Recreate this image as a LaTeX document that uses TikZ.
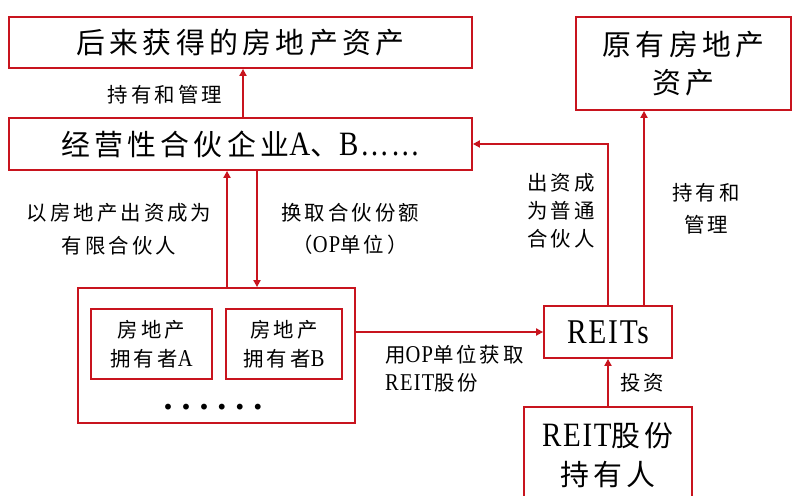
\documentclass[tikz,border=0pt]{standalone}
\usepackage{fontspec}
\setmainfont{Noto Sans CJK SC}[LetterSpace=15]
\newfontfamily\lat{Liberation Serif}[Scale=1.18,FakeStretch=0.85,LetterSpace=5]
\newfontfamily\dotfont{Liberation Serif}[LetterSpace=25]
\usetikzlibrary{arrows.meta}
\definecolor{boxred}{RGB}{200,20,30}
\newcommand\fsbig{\fontsize{29}{38}\selectfont}
\newcommand\fslbl[1]{\fontsize{20.5}{#1}\selectfont}
\tikzset{
  box/.style={draw=boxred, line width=1.8bp, inner sep=0pt, align=center},
  arr/.style={draw=boxred, line width=1.8bp, -{Triangle[length=7bp,width=7bp]}},
  lbl/.style={inner sep=0pt, align=center},
}
\begin{document}
\begin{tikzpicture}[x=1bp,y=-1bp]
\useasboundingbox (0,0) rectangle (793,496);
\clip (0,0) rectangle (793,496);
% boxes
\node[box, minimum width=463bp, minimum height=51bp, font=\fsbig] (later) at (240.5,42.5) {后来获得的房地产资产};
\node[box, minimum width=463bp, minimum height=52bp, font=\fsbig] (opp) at (240.5,144) {经营性合伙企业{\lat A}、{\lat B……}};
\node[box, minimum width=215bp, minimum height=93bp, font=\fsbig] (orig) at (683.5,63.5) {原有房地产\\资产};
\node[box, minimum width=277bp, minimum height=135bp] (owners) at (216.5,355.5) {};
\node[box, minimum width=121bp, minimum height=70bp, font=\fslbl{29}] (ownA) at (151.5,344) {房地产\\拥有者{\lat A}};
\node[box, minimum width=116bp, minimum height=70bp, font=\fslbl{29}] (ownB) at (284,344) {房地产\\拥有者{\lat B}};
\node[lbl, font=\dotfont\bfseries\fontsize{36}{38}\selectfont] (dots) at (213,407) {......};
\node[box, minimum width=128bp, minimum height=52bp, font=\lat\fontsize{29.5}{34}\selectfont] (reits) at (608,332) {REITs};
\node[box, minimum width=168bp, minimum height=96bp, font=\fsbig\linespread{1.05}\selectfont] (holders) at (608,455) {{\lat REIT}股份\\持有人};
% connectors
\draw[arr] ([xshift=2.5bp]opp.north) -- ([xshift=2.5bp]later.south);
\draw[arr] ([xshift=10.5bp]owners.north) -- ([xshift=10.5bp]owners.north |- opp.south);
\draw[arr] ([xshift=40.5bp]owners.north |- opp.south) -- ([xshift=40.5bp]owners.north);
\draw[arr] (owners.east |- reits.west) -- (reits.west);
\draw[arr] (reits.north) |- (opp.east);
\draw[arr] ([xshift=36bp]reits.north) -- ([xshift=36bp]reits.north |- orig.south);
\draw[arr] (holders.north) -- (reits.south);
% labels
\node[lbl, font=\fslbl{30}] (l1) at (165,95) {持有和管理};
\node[lbl, font=\fslbl{33}] (l2) at (119,229) {以房地产出资成为\\有限合伙人};
\node[lbl, font=\fslbl{32}] (l3) at (350,229) {换取合伙份额\\（{\lat OP}单位）};
\node[lbl, font=\fslbl{28}] (l4) at (561,211) {出资成\\为普通\\合伙人};
\node[lbl, font=\fslbl{32}] (l5) at (706,209) {持有和\\管理};
\node[lbl, font=\fslbl{28}, anchor=west, align=left] (l6) at (385,369) {用{\lat OP}单位获取\\{\lat REIT}股份};
\node[lbl, font=\fslbl{30}] (l7) at (642,383) {投资};
\end{tikzpicture}
\end{document}
